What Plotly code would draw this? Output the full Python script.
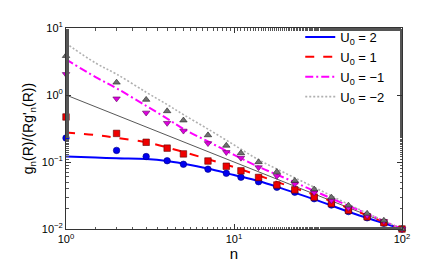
import plotly.graph_objects as go

# sample points (markers)
n_pts = [1, 2, 3, 4, 5, 7, 9, 11, 14, 18, 23, 30, 38, 48, 62, 78, 100]
pts_u2 = [0.228, 0.149, 0.1205, 0.1045, 0.0925, 0.0781, 0.0678, 0.0592, 0.0508, 0.0419,
          0.0354, 0.0283, 0.0228, 0.0182, 0.0147, 0.0122, 0.0100]
pts_u1 = [0.47, 0.267, 0.197, 0.161, 0.132, 0.1035, 0.0865, 0.0738, 0.0588, 0.0454,
          0.0384, 0.0299, 0.0239, 0.0190, 0.0152, 0.0124, 0.0100]
pts_um1 = [2.04, 0.883, 0.543, 0.381, 0.292, 0.190, 0.140, 0.115, 0.083, 0.0617,
           0.047, 0.035, 0.0267, 0.0206, 0.0159, 0.0130, 0.0100]
pts_um2 = [3.84, 1.54, 0.853, 0.576, 0.419, 0.252, 0.176, 0.136, 0.100, 0.0713,
           0.0526, 0.0392, 0.0296, 0.0225, 0.0170, 0.0134, 0.0100]

# curves
n_line = [1, 1.5, 2, 3, 4, 5, 7, 10, 14, 20, 30, 50, 70, 100]
line_u2 = [0.121, 0.117, 0.1135, 0.1105, 0.1035, 0.0945, 0.080, 0.064, 0.052, 0.039,
           0.0277, 0.0175, 0.0133, 0.010]
line_u1 = [0.275, 0.252, 0.230, 0.197, 0.165, 0.141, 0.110, 0.084, 0.063, 0.046,
           0.0323, 0.0197, 0.0142, 0.010]
line_um1 = [3.40, 1.85, 1.26, 0.69, 0.445, 0.312, 0.203, 0.128, 0.085, 0.058,
            0.037, 0.0213, 0.0148, 0.010]
line_um2 = [5.90, 3.0, 2.05, 1.10, 0.72, 0.51, 0.31, 0.18, 0.108, 0.069,
            0.042, 0.0222, 0.0150, 0.010]
ref_n = [1, 100]
ref_v = [1, 0.01]

legend_names = ["U<sub>0</sub> = 2", "U<sub>0</sub> = 1",
                "U<sub>0</sub> = \u22121", "U<sub>0</sub> = \u22122"]
x_tickvals = [1, 10, 100]
x_ticktext = ["10<sup>0</sup>", "10<sup>1</sup>", "10<sup>2</sup>"]
y_tickvals = [0.01, 0.1, 1, 10]
y_ticktext = ["10<sup>\u22122</sup>", "10<sup>\u22121</sup>", "10<sup>0</sup>", "10<sup>1</sup>"]

fig = go.Figure()

# reference 1/n line
fig.add_trace(go.Scatter(x=ref_n, y=ref_v, mode="lines",
                         line=dict(color="#444444", width=0.9), showlegend=False))

line_styles = [
    (line_u2, "#0000ff", "solid", 2.0),
    (line_u1, "#ff0000", "dash", 2.0),
    (line_um1, "#ff00ff", "8px,3px,2px,3px", 2.0),
    (line_um2, "#b0b0b0", "2px,2px", 1.6),
]
for (vals, col, dash, w), name in zip(line_styles, legend_names):
    fig.add_trace(go.Scatter(x=n_line, y=vals, mode="lines", name=name,
                             line=dict(color=col, dash=dash, width=w, shape="spline")))

marker_styles = [
    (pts_u2, "#0000ee", "circle", "#000080"),
    (pts_u1, "#ee0000", "square", "#600000"),
    (pts_um1, "#dd00dd", "triangle-down", "#600060"),
    (pts_um2, "#707070", "triangle-up", "#202020"),
]
for vals, col, sym, edge in marker_styles:
    fig.add_trace(go.Scatter(x=n_pts, y=vals, mode="markers", showlegend=False,
                             cliponaxis=False,
                             marker=dict(color=col, symbol=sym, size=6.5,
                                         line=dict(color=edge, width=0.6))))

axis_common = dict(type="log", showgrid=False, zeroline=False, showline=True,
                   linecolor="#333333", linewidth=1, mirror="ticks",
                   ticks="inside", ticklen=5, tickcolor="#333333",
                   minor=dict(ticks="inside", ticklen=2.5, tickcolor="#555555", showgrid=False),
                   tickfont=dict(family="Liberation Sans, Arial", size=11, color="#000000"))

fig.update_xaxes(range=[0, 2], tickvals=x_tickvals, ticktext=x_ticktext,
                 title=dict(text="n", font=dict(family="Liberation Sans, Arial", size=15, color="#000"),
                            standoff=2),
                 **axis_common)
fig.update_yaxes(range=[-2, 1], tickvals=y_tickvals, ticktext=y_ticktext,
                 title=dict(text="g<sub>n</sub>(R)/(Rg'<sub>n</sub>(R))",
                            font=dict(family="Liberation Sans, Arial", size=14, color="#000"),
                            standoff=4),
                 **axis_common)

fig.update_layout(
    width=436, height=262,
    margin=dict(l=58, r=42, t=19, b=39),
    paper_bgcolor="white", plot_bgcolor="white",
    legend=dict(x=0.965, y=1.03, xanchor="right", yanchor="top",
                itemwidth=30,
                bgcolor="rgba(0,0,0,0)", borderwidth=0,
                font=dict(family="Liberation Sans, Arial", size=13, color="#000")),
)

fig.write_html("out.html")
